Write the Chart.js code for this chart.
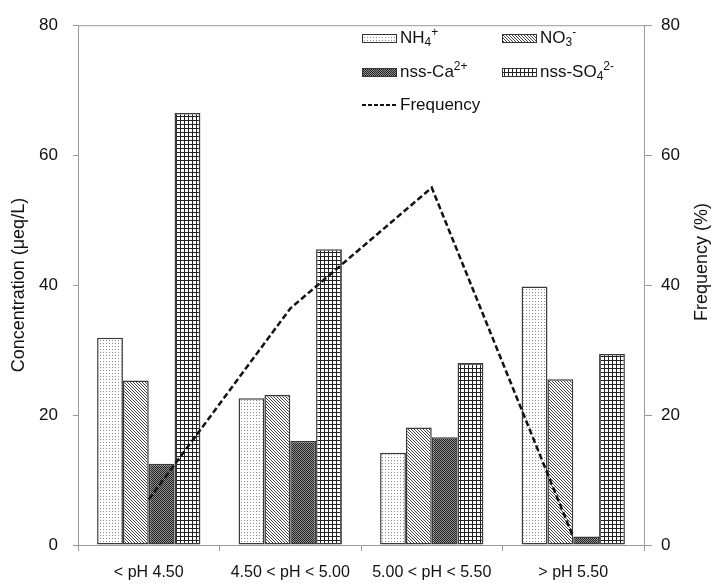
<!DOCTYPE html>
<html>
<head>
<meta charset="utf-8">
<script src="https://cdn.jsdelivr.net/npm/chart.js@4"></script>
<style>
  body { margin: 0; background: #fff; }
  #wrap { width: 712px; height: 586px; }
</style>
</head>
<body>
<div id="wrap"><canvas id="chart" width="712" height="586"></canvas></div>
<script>
  const categories = ['< pH 4.50', '4.50 < pH < 5.00', '5.00 < pH < 5.50', '> pH 5.50'];
  const nh4 = [31.9, 22.6, 14.2, 39.8];
  const no3 = [25.3, 23.1, 18.1, 25.5];
  const nssCa = [12.5, 16.0, 16.6, 1.3];
  const nssSo4 = [66.5, 45.5, 28.0, 29.4];
  const frequency = [7.0, 36.4, 55.0, 1.2];
  const leftTicks = [0, 20, 40, 60, 80];
  const rightTicks = [0, 20, 40, 60, 80];

  const FONT = '"Liberation Sans", Arial, sans-serif';
  const AXIS_GREY = '#9a9a9a';

  // little fill patterns, like the old excel ones
  function makePattern(size, draw) {
    const c = document.createElement('canvas');
    c.width = size; c.height = size;
    const g = c.getContext('2d');
    draw(g, size);
    return document.getElementById('chart').getContext('2d').createPattern(c, 'repeat');
  }

  const dotPattern = makePattern(3, (g, s) => {
    g.fillStyle = '#fff'; g.fillRect(0, 0, s, s);
    g.fillStyle = '#8a8a8a'; g.fillRect(1, 1, 1, 1);
  });
  const hatchPattern = makePattern(3, (g, s) => {
    g.fillStyle = '#fff'; g.fillRect(0, 0, s, s);
    g.fillStyle = '#444';
    for (let i = 0; i < s; i++) g.fillRect(i, i, 1, 1);
  });
  const checkPattern = makePattern(2, (g, s) => {
    g.fillStyle = '#8f8f8f'; g.fillRect(0, 0, s, s);
    g.fillStyle = '#222'; g.fillRect(0, 0, 1, 1); g.fillRect(1, 1, 1, 1);
  });
  const gridPattern = makePattern(4, (g, s) => {
    g.fillStyle = '#fff'; g.fillRect(0, 0, s, s);
    g.fillStyle = '#222';
    g.fillRect(0, 0, s, 1); g.fillRect(0, 0, 1, s);
  });

  const barStyle = {
    type: 'bar',
    yAxisID: 'y',
    borderColor: '#3a3a3a',
    borderWidth: 1.5,
    borderSkipped: false,
    order: 1,
  };

  // extra bits: top frame line, axis titles, in-plot legend
  function drawRich(ctx, parts, x, y, size) {
    for (const [txt, mode] of parts) {
      const fs = mode ? Math.round(size * 0.7) : size;
      const dy = mode === 'sub' ? size * 0.28 : mode === 'sup' ? -size * 0.32 : 0;
      ctx.font = fs + 'px ' + FONT;
      ctx.fillText(txt, x, y + dy);
      x += ctx.measureText(txt).width;
    }
  }

  const legendItems = [
    { fill: dotPattern, x: 362, y: 38, parts: [['NH'], ['4', 'sub'], ['+', 'sup']] },
    { fill: hatchPattern, x: 502, y: 38, parts: [['NO'], ['3', 'sub'], ['-', 'sup']] },
    { fill: checkPattern, x: 362, y: 72, parts: [['nss-Ca'], ['2+', 'sup']] },
    { fill: gridPattern, x: 502, y: 72, parts: [['nss-SO'], ['4', 'sub'], ['2-', 'sup']] },
    { line: true, x: 362, y: 105, parts: [['Frequency']] },
  ];

  const extras = {
    id: 'extras',
    afterDraw(chart) {
      const ctx = chart.ctx;
      const a = chart.chartArea;
      ctx.save();
      ctx.strokeStyle = AXIS_GREY;
      ctx.lineWidth = 1;
      ctx.beginPath();
      ctx.moveTo(a.left, a.top + 0.5);
      ctx.lineTo(a.right, a.top + 0.5);
      ctx.stroke();

      ctx.fillStyle = '#111';
      ctx.font = '18px ' + FONT;
      ctx.textAlign = 'center';
      ctx.textBaseline = 'middle';
      ctx.save();
      ctx.translate(19, (a.top + a.bottom) / 2);
      ctx.rotate(-Math.PI / 2);
      ctx.fillText('Concentration (\u03bceq/L)', 0, 0);
      ctx.restore();
      ctx.save();
      ctx.translate(702, 262);
      ctx.rotate(-Math.PI / 2);
      ctx.fillText('Frequency (%)', 0, 0);
      ctx.restore();

      ctx.textAlign = 'left';
      ctx.textBaseline = 'middle';
      for (const it of legendItems) {
        if (it.line) {
          ctx.strokeStyle = '#111';
          ctx.lineWidth = 2;
          ctx.setLineDash([4, 2]);
          ctx.beginPath();
          ctx.moveTo(it.x, it.y);
          ctx.lineTo(it.x + 35, it.y);
          ctx.stroke();
          ctx.setLineDash([]);
        } else {
          ctx.fillStyle = it.fill;
          ctx.fillRect(it.x, it.y - 4, 35, 9);
          ctx.strokeStyle = '#333';
          ctx.lineWidth = 1;
          ctx.strokeRect(it.x + 0.5, it.y - 3.5, 34, 8);
        }
        ctx.fillStyle = '#111';
        drawRich(ctx, it.parts, it.x + 38, it.y, 17);
      }
      ctx.restore();
    },
  };

  new Chart(document.getElementById('chart'), {
    data: {
      labels: categories,
      datasets: [
        {
          type: 'line',
          label: 'Frequency',
          data: frequency,
          yAxisID: 'y1',
          borderColor: '#111',
          borderWidth: 2.5,
          borderDash: [6, 3],
          pointRadius: 0,
          tension: 0,
          fill: false,
          order: 0,
        },
        { ...barStyle, label: 'NH4+', data: nh4, backgroundColor: dotPattern },
        { ...barStyle, label: 'NO3-', data: no3, backgroundColor: hatchPattern },
        { ...barStyle, label: 'nss-Ca2+', data: nssCa, backgroundColor: checkPattern },
        { ...barStyle, label: 'nss-SO42-', data: nssSo4, backgroundColor: gridPattern },
      ],
    },
    options: {
      responsive: false,
      animation: false,
      layout: { padding: { top: 12, left: 0, right: 0, bottom: 0 } },
      datasets: { bar: { categoryPercentage: 0.73, barPercentage: 1 } },
      plugins: { legend: { display: false }, tooltip: { enabled: false } },
      scales: {
        x: {
          afterFit: s => { s.height = 41; },
          grid: { display: true, drawOnChartArea: false, tickLength: 6, color: AXIS_GREY, offset: true },
          border: { color: AXIS_GREY },
          ticks: { color: '#111', font: { family: FONT, size: 16 }, padding: 12, maxRotation: 0, autoSkip: false },
        },
        y: {
          position: 'left',
          min: 0, max: 80,
          afterFit: s => { s.width = 78; },
          afterBuildTicks: s => { s.ticks = leftTicks.map(v => ({ value: v })); },
          grid: { drawOnChartArea: false, tickLength: 5, color: AXIS_GREY },
          border: { color: AXIS_GREY },
          ticks: { color: '#111', font: { family: FONT, size: 17 }, padding: 15 },
        },
        y1: {
          position: 'right',
          min: 0, max: 80,
          afterFit: s => { s.width = 68; },
          afterBuildTicks: s => { s.ticks = rightTicks.map(v => ({ value: v })); },
          grid: { drawOnChartArea: false, tickLength: 8, color: AXIS_GREY },
          border: { color: AXIS_GREY },
          ticks: { color: '#111', font: { family: FONT, size: 17 }, padding: 9 },
        },
      },
    },
    plugins: [extras],
  });
</script>
</body>
</html>
